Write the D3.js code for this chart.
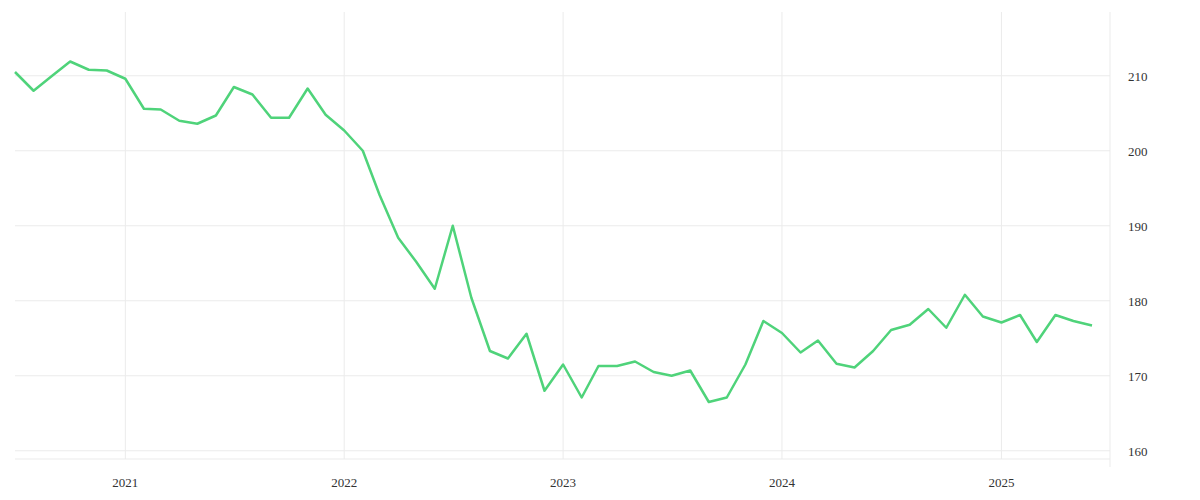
<!DOCTYPE html>
<html><head><meta charset="utf-8">
<script src="https://cdn.jsdelivr.net/npm/d3@7"></script>
<style>body{margin:0;background:#fff}</style>
</head><body><div id="chart"></div>
<script>
// Monthly values, Jul 2020 .. Jun 2025
const startMonth = new Date(2020, 6, 1);
const values = [210.5, 208, 210, 211.9, 210.8, 210.7,
  209.6, 205.6, 205.5, 204, 203.6, 204.7, 208.5, 207.5, 204.4, 204.4, 208.3, 204.8,
  202.7, 200, 194.1, 188.4, 185.2, 181.6, 190, 180.4, 173.3, 172.3, 175.6, 168,
  171.5, 167.1, 171.3, 171.3, 171.9, 170.5, 170, 170.7, 166.5, 167.1, 171.5, 177.3,
  175.7, 173.1, 174.7, 171.6, 171.1, 173.3, 176.1, 176.8, 178.9, 176.4, 180.8, 177.9,
  177.1, 178.1, 174.5, 178.1, 177.3, 176.7];
const yTicks = [160, 170, 180, 190, 200, 210];
const xTickYears = [2021, 2022, 2023, 2024, 2025];

const data = values.map((v, i) => ({ date: d3.timeMonth.offset(startMonth, i), v }));

const width = 1200, height = 500;
const plotLeft = 15, plotRight = 1110, plotTop = 12, plotBottom = 459;

const svg = d3.select('#chart').append('svg')
  .attr('width', width).attr('height', height);

const x = d3.scaleTime()
  .domain([data[0].date, data[data.length - 1].date])
  .range([plotLeft, 1092]);
const y = d3.scaleLinear().domain([158.9, 218.5]).range([plotBottom, plotTop]);

// Grid lines
svg.append('g').selectAll('line').data(yTicks).enter().append('line')
  .attr('x1', plotLeft).attr('x2', plotRight)
  .attr('y1', (d) => y(d)).attr('y2', (d) => y(d))
  .attr('stroke', '#ebebeb');
svg.append('g').selectAll('line').data(xTickYears).enter().append('line')
  .attr('x1', (d) => x(new Date(d, 0, 1))).attr('x2', (d) => x(new Date(d, 0, 1)))
  .attr('y1', plotTop).attr('y2', plotBottom)
  .attr('stroke', '#ebebeb');
svg.append('line').attr('x1', plotLeft).attr('x2', plotRight)
  .attr('y1', plotBottom).attr('y2', plotBottom).attr('stroke', '#ebebeb');
svg.append('line').attr('x1', plotRight).attr('x2', plotRight)
  .attr('y1', plotTop).attr('y2', 467).attr('stroke', '#ebebeb');

// Axis labels
svg.append('g').selectAll('text').data(yTicks).enter().append('text')
  .attr('x', 1128).attr('y', (d) => y(d) + 5)
  .style('font-family', 'Liberation Serif, serif').style('font-size', '13px')
  .attr('fill', '#333').text((d) => d);
svg.append('g').selectAll('text').data(xTickYears).enter().append('text')
  .attr('x', (d) => x(new Date(d, 0, 1))).attr('y', 487)
  .attr('text-anchor', 'middle')
  .style('font-family', 'Liberation Serif, serif').style('font-size', '13px')
  .attr('fill', '#333').text((d) => d);

// Line
svg.append('path').datum(data)
  .attr('fill', 'none').attr('stroke', '#4fd37a').attr('stroke-width', 2.5)
  .attr('stroke-linejoin', 'round')
  .attr('d', d3.line().x((d) => x(d.date)).y((d) => y(d.v)));
</script>
</body></html>
